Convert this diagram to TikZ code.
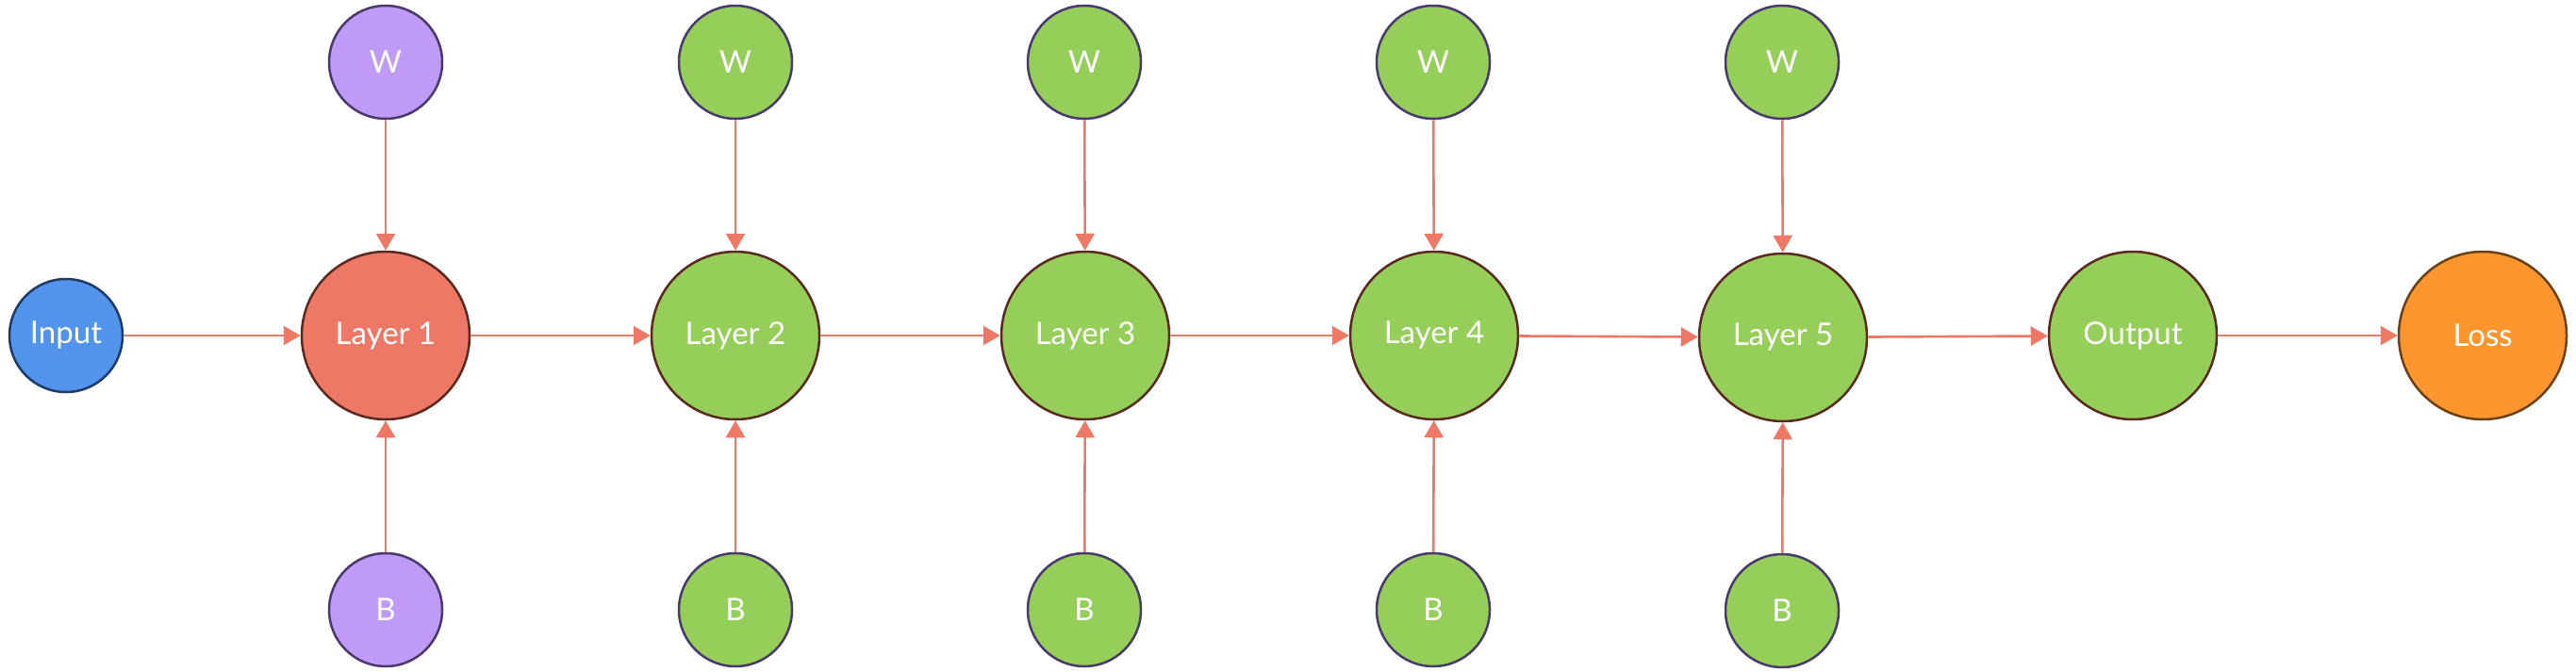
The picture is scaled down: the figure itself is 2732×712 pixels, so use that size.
\documentclass[tikz,border=0pt]{standalone}
\usepackage{fontspec}
\setmainfont{Lato}
\usetikzlibrary{arrows.meta}
\definecolor{arrowc}{HTML}{EE7866}
\definecolor{inputfill}{HTML}{5293EC}
\definecolor{inputdraw}{HTML}{1E3A66}
\definecolor{redfill}{HTML}{EE7866}
\definecolor{layerdraw}{HTML}{5A2A20}
\definecolor{greenfill}{HTML}{96CE5A}
\definecolor{purplefill}{HTML}{BF9AF7}
\definecolor{pardraw}{HTML}{4A3A6C}
\definecolor{lossfill}{HTML}{FD962F}
\definecolor{lossdraw}{HTML}{6A4212}
\tikzset{
  basenode/.style={circle, inner sep=0pt, line width=2.5pt, text=white,
    font=\fontsize{33}{40}\selectfont},
  smallnode/.style={basenode, minimum size=120pt},
  bignode/.style={basenode, minimum size=178pt, draw=layerdraw},
  parnode/.style={smallnode, draw=pardraw},
  conn/.style={draw=arrowc, line width=2.6pt,
    -{Triangle[width=20pt,length=18pt]}},
}
\begin{document}
\begin{tikzpicture}[x=1pt,y=-1pt]
\useasboundingbox (0,0) rectangle (2732,712);
% main row
\node[smallnode, draw=inputdraw, fill=inputfill] (in) at (70,356) {Input};
\node[bignode, fill=redfill] (l1) at (409,356) {Layer 1};
\node[bignode, fill=greenfill] (l2) at (780,356) {Layer 2};
\node[bignode, fill=greenfill] (l3) at (1151,356) {Layer 3};
\node[bignode, fill=greenfill] (l4) at (1521,356) {Layer 4};
\node[bignode, fill=greenfill] (l5) at (1891,358) {Layer 5};
\node[bignode, fill=greenfill] (out) at (2262,356) {Output};
\node[bignode, draw=lossdraw, fill=lossfill] (loss) at (2633,356) {Loss};
% weights
\node[parnode, fill=purplefill] (w1) at (409,66) {W};
\node[parnode, fill=greenfill] (w2) at (780,66) {W};
\node[parnode, fill=greenfill] (w3) at (1150,66) {W};
\node[parnode, fill=greenfill] (w4) at (1520,66) {W};
\node[parnode, fill=greenfill] (w5) at (1890,66) {W};
% biases
\node[parnode, fill=purplefill] (b1) at (409,647) {B};
\node[parnode, fill=greenfill] (b2) at (780,647) {B};
\node[parnode, fill=greenfill] (b3) at (1150,647) {B};
\node[parnode, fill=greenfill] (b4) at (1520,647) {B};
\node[parnode, fill=greenfill] (b5) at (1890,648) {B};
% connectors
\draw[conn] (in) -- (l1);
\draw[conn] (l1) -- (l2);
\draw[conn] (l2) -- (l3);
\draw[conn] (l3) -- (l4);
\draw[conn] (l4) -- (l5);
\draw[conn] (l5) -- (out);
\draw[conn] (out) -- (loss);
\foreach \i in {1,...,5}{
  \draw[conn] (w\i) -- (l\i);
  \draw[conn] (b\i) -- (l\i);
}
\end{tikzpicture}
\end{document}
